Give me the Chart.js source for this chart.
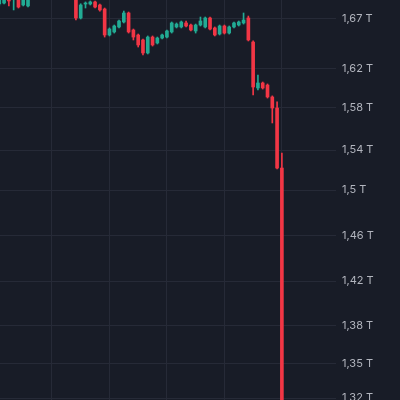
<!DOCTYPE html>
<html>
<head>
<meta charset="utf-8">
<script src="https://cdn.jsdelivr.net/npm/chart.js@4/dist/chart.umd.min.js"></script>
<style>
  html, body { margin: 0; padding: 0; background: #181c27; }
  #wrap { width: 400px; height: 400px; }
</style>
</head>
<body>
<div id="wrap"><canvas id="candleChart"></canvas></div>
<script>
// candle index (x) and OHLC values
const idx   = [1, 2, 3, 4, 5, 6, 7, 8, 9, 10, 11, 12, 13, 14, 15, 16, 17, 18, 19, 20, 21, 22, 23, 24, 25, 26, 27, 28, 29, 30, 31, 32, 33, 34, 35, 36, 37, 38, 39, 40, 41, 42, 43, 44, 45, 46, 47, 48, 49, 50, 51, 52, 53, 54, 55, 56, 57, 58, 59, 60];
const open  = [1.6838, 1.6847, 1.6922, 1.6893, 1.6968, 1.6829, 1.6820, 1.7000, 1.6950, 1.6990, 1.7030, 1.7060, 1.7020, 1.7050, 1.7010, 1.6960, 1.6920, 1.6709, 1.6838, 1.6838, 1.6857, 1.6829, 1.6792, 1.6552, 1.6580, 1.6626, 1.6672, 1.6755, 1.6598, 1.6552, 1.6506, 1.6386, 1.6533, 1.6478, 1.6524, 1.6533, 1.6580, 1.6626, 1.6626, 1.6663, 1.6644, 1.6589, 1.6644, 1.6626, 1.6709, 1.6617, 1.6561, 1.6635, 1.6570, 1.6626, 1.6644, 1.6663, 1.6709, 1.6487, 1.6063, 1.6109, 1.6090, 1.5980, 1.5878, 1.5324];
const high  = [1.7020, 1.6980, 1.6940, 1.7040, 1.6990, 1.6940, 1.6980, 1.7030, 1.7000, 1.7060, 1.7080, 1.7090, 1.7070, 1.7080, 1.7040, 1.6990, 1.6950, 1.6840, 1.6857, 1.6866, 1.6866, 1.6838, 1.6801, 1.6617, 1.6644, 1.6690, 1.6773, 1.6764, 1.6607, 1.6561, 1.6515, 1.6543, 1.6543, 1.6533, 1.6561, 1.6598, 1.6672, 1.6663, 1.6681, 1.6681, 1.6653, 1.6653, 1.6718, 1.6718, 1.6718, 1.6626, 1.6644, 1.6644, 1.6635, 1.6672, 1.6681, 1.6755, 1.6727, 1.6497, 1.6183, 1.6118, 1.6100, 1.5990, 1.5934, 1.5463];
const low   = [1.6820, 1.6838, 1.6820, 1.6783, 1.6801, 1.6820, 1.6810, 1.6930, 1.6920, 1.6950, 1.6990, 1.7000, 1.6980, 1.6990, 1.6950, 1.6910, 1.6690, 1.6700, 1.6801, 1.6829, 1.6801, 1.6773, 1.6533, 1.6543, 1.6570, 1.6617, 1.6663, 1.6570, 1.6506, 1.6441, 1.6367, 1.6377, 1.6450, 1.6469, 1.6515, 1.6524, 1.6570, 1.6617, 1.6617, 1.6626, 1.6589, 1.6570, 1.6635, 1.6617, 1.6598, 1.6543, 1.6552, 1.6561, 1.6561, 1.6617, 1.6635, 1.6653, 1.6497, 1.5998, 1.6044, 1.6053, 1.5970, 1.5740, 1.5315, 1.2900];
const close = [1.6986, 1.6940, 1.6866, 1.7014, 1.6810, 1.6922, 1.6950, 1.6950, 1.6990, 1.7030, 1.7060, 1.7020, 1.7050, 1.7010, 1.6960, 1.6920, 1.6709, 1.6829, 1.6847, 1.6857, 1.6810, 1.6783, 1.6552, 1.6607, 1.6635, 1.6681, 1.6755, 1.6580, 1.6533, 1.6460, 1.6386, 1.6533, 1.6460, 1.6524, 1.6552, 1.6589, 1.6663, 1.6653, 1.6672, 1.6635, 1.6598, 1.6644, 1.6681, 1.6709, 1.6607, 1.6552, 1.6635, 1.6570, 1.6626, 1.6663, 1.6672, 1.6690, 1.6506, 1.6072, 1.6109, 1.6063, 1.5980, 1.5878, 1.5324, 1.3000];

// price axis
const tickValues = [1.6700, 1.6240, 1.5880, 1.5490, 1.5120, 1.4700, 1.4280, 1.3870, 1.3520, 1.3200];
const tickLabels = ['1,67 T', '1,62 T', '1,58 T', '1,54 T', '1,5 T', '1,46 T', '1,42 T', '1,38 T', '1,35 T', '1,32 T'];
const timeGrid   = [12, 24, 36, 48, 60];

const upColor   = '#22ab94';
const downColor = '#f23645';
const gridColor = '#262a37';

const candleColor = (ctx) => {
  const i = ctx.dataIndex;
  return close[i] >= open[i] ? upColor : downColor;
};

document.addEventListener('DOMContentLoaded', function() {
  const ctx = document.getElementById('candleChart').getContext('2d');

  new Chart(ctx, {
    type: 'bar',
    data: {
      datasets: [
        {
          label: 'body',
          data: idx.map((x, i) => ({ x: x, y: [open[i], close[i]] })),
          backgroundColor: candleColor,
          barThickness: 3,
          minBarLength: 1,
          grouped: false
        },
        {
          label: 'wick',
          data: idx.map((x, i) => ({ x: x, y: [low[i], high[i]] })),
          backgroundColor: candleColor,
          barThickness: 1,
          grouped: false
        }
      ]
    },
    options: {
      responsive: true,
      maintainAspectRatio: false,
      animation: false,
      layout: { padding: 0 },
      scales: {
        x: {
          type: 'linear',
          min: 1.15,
          max: 71.3,
          offset: false,
          afterBuildTicks: (scale) => {
            scale.ticks = timeGrid.map(v => ({ value: v }));
          },
          ticks: { display: false },
          grid: { color: gridColor, drawTicks: false, offset: false },
          border: { display: false }
        },
        y: {
          position: 'right',
          min: 1.3183,
          max: 1.6875,
          afterBuildTicks: (scale) => {
            scale.ticks = tickValues.map(v => ({ value: v }));
          },
          afterFit: (scale) => {
            scale.width = 64;
            scale.paddingTop = 0;
            scale.paddingBottom = 0;
          },
          ticks: {
            color: '#b2b5be',
            padding: 6,
            font: { family: 'Inter', size: 11 },
            callback: function(value, index) {
              return tickLabels[index];
            }
          },
          grid: { color: gridColor, drawTicks: false },
          border: { display: false }
        }
      },
      plugins: {
        legend: { display: false },
        tooltip: { enabled: false }
      }
    }
  });
});
</script>
</body>
</html>
